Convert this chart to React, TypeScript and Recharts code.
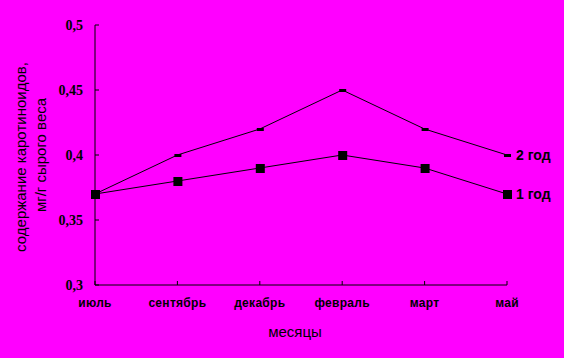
import React from 'react';
import { LineChart, Line, XAxis, YAxis, LabelList, Label } from 'recharts';

const months = ['июль', 'сентябрь', 'декабрь', 'февраль', 'март', 'май'];
const year1 = [0.37, 0.38, 0.39, 0.40, 0.39, 0.37];
const year2 = [0.37, 0.40, 0.42, 0.45, 0.42, 0.40];
const yTicks = [0.3, 0.35, 0.4, 0.45, 0.5];
const seriesNames = ['1 год', '2 год'];
const xTitle = 'месяцы';
const yTitle = ['содержание каротиноидов,', 'мг/г сырого веса'];

const data = months.map((m, i) => ({ month: m, y1: year1[i], y2: year2[i] }));

const W = 564;
const H = 358;
const BG = '#FF00FF';
const sans = '"Liberation Sans", Arial, sans-serif';
const serif = '"Liberation Serif", "Times New Roman", serif';

const SquareDot = (props: any) => {
  const { cx, cy } = props;
  if (cx == null || cy == null) return null;
  return <rect x={cx - 4} y={cy - 4} width={9} height={9} fill="#000" />;
};

const DashDot = (props: any) => {
  const { cx, cy } = props;
  if (cx == null || cy == null) return null;
  return <rect x={cx - 3} y={cy - 1} width={7} height={3} fill="#000" />;
};

const XTick = (props: any) => {
  const { x, y, payload } = props;
  return (
    <g>
      <line x1={x} x2={x} y1={y - 16} y2={y - 12} stroke="#000" strokeWidth={1} />
      <text x={x} y={y + 6} textAnchor="middle" dominantBaseline="central"
        fontFamily={sans} fontWeight="bold" fontSize={12} fill="#000" letterSpacing={0.3}>
        {payload.value}
      </text>
    </g>
  );
};

const YTick = (props: any) => {
  const { x, y, payload } = props;
  return (
    <g>
      <line x1={x + 12} x2={x + 16} y1={y} y2={y} stroke="#000" strokeWidth={1} />
      <text x={x} y={y} textAnchor="end" dominantBaseline="central"
        fontFamily={serif} fontWeight="bold" fontSize={14} fill="#000">
        {String(payload.value).replace('.', ',')}
      </text>
    </g>
  );
};

const makeEndLabel = (name: string) => (props: any) => {
  const { x, y, index } = props;
  if (index !== months.length - 1) return null;
  return (
    <text x={x + 9} y={y} dominantBaseline="central" fontFamily={sans}
      fontWeight="bold" fontSize={14} fill="#000">
      {name}
    </text>
  );
};

const YTitle = (props: any) => {
  const vb = props.viewBox || {};
  const cy = (vb.y ?? 25) + (vb.height ?? 260) / 2;
  return (
    <g fontFamily={sans} fontSize={15} fill="#000">
      <text x={20} y={cy + 2} textAnchor="middle" dominantBaseline="central"
        transform={`rotate(-90, 20, ${cy + 2})`}>{yTitle[0]}</text>
      <text x={40} y={cy} textAnchor="middle" dominantBaseline="central"
        transform={`rotate(-90, 40, ${cy})`}>{yTitle[1]}</text>
    </g>
  );
};

const XTitle = (props: any) => {
  const vb = props.viewBox || {};
  const cx = (vb.x ?? 95) + (vb.width ?? 412) / 2 - 6;
  return (
    <text x={cx} y={331} textAnchor="middle" dominantBaseline="central"
      fontFamily={sans} fontSize={15} fill="#000">{xTitle}</text>
  );
};

export default function App() {
  return (
    <div style={{ position: 'absolute', left: 0, top: 0, width: W, height: H, background: BG }}>
      <LineChart width={W} height={H} data={data}
        margin={{ top: 25, right: 57, bottom: 43, left: 35 }}>
        <XAxis dataKey="month" scale="point" padding={{ left: 0, right: 0 }} height={30}
          axisLine={{ stroke: '#000', strokeWidth: 1 }} tickLine={false}
          tickSize={0} tickMargin={12} tick={<XTick />} interval={0}>
          <Label content={<XTitle />} />
        </XAxis>
        <YAxis width={60} domain={[0.3, 0.5]} ticks={yTicks} type="number"
          axisLine={{ stroke: '#000', strokeWidth: 1 }} tickLine={false}
          tickSize={0} tickMargin={12} tick={<YTick />} interval={0}>
          <Label content={<YTitle />} />
        </YAxis>
        <Line dataKey="y2" stroke="#000" strokeWidth={1} dot={<DashDot />}
          activeDot={false} isAnimationActive={false} type="linear">
          <LabelList dataKey="y2" content={makeEndLabel(seriesNames[1])} />
        </Line>
        <Line dataKey="y1" stroke="#000" strokeWidth={1} dot={<SquareDot />}
          activeDot={false} isAnimationActive={false} type="linear">
          <LabelList dataKey="y1" content={makeEndLabel(seriesNames[0])} />
        </Line>
      </LineChart>
    </div>
  );
}
